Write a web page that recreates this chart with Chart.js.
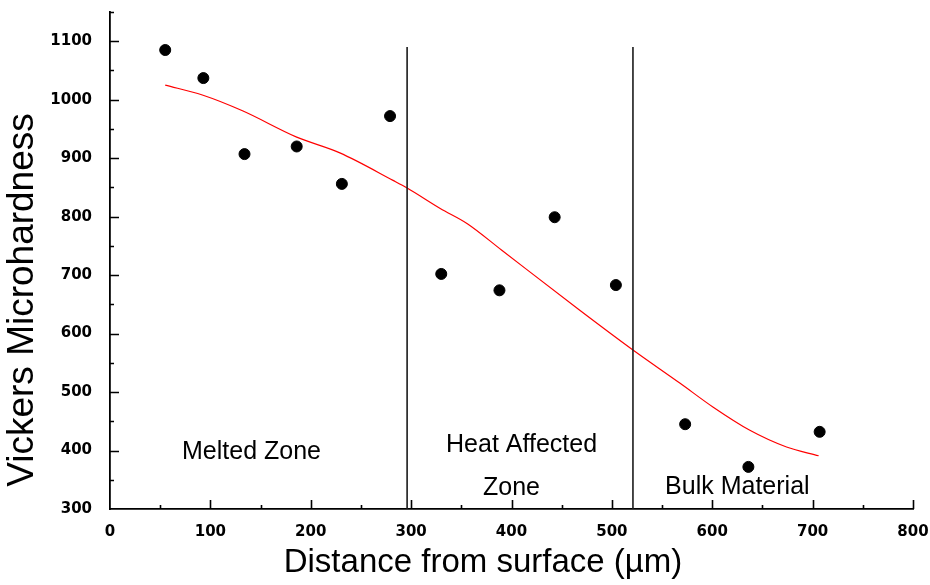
<!DOCTYPE html>
<html>
<head>
<meta charset="utf-8">
<script src="https://cdn.jsdelivr.net/npm/chart.js@4.4.1/dist/chart.umd.min.js"></script>
<style>
  body { margin: 0; background: #fff; }
  #wrap { width: 930px; height: 585px; }
</style>
</head>
<body>
<div id="wrap"><canvas id="chart1"></canvas></div>
<script>
// measured points
var distance = [55, 93, 134, 186, 231, 279, 330, 388, 443, 504, 573, 636, 707];
var hardness = [1085, 1037, 907, 920, 856, 972, 702, 674, 799, 683, 445, 372, 432];

// red fitted curve
var fitDistance = [55, 92, 132, 186, 229, 282, 296, 329, 356, 390, 468, 521, 568, 601, 637, 674, 706];
var fitHardness = [1025, 1008, 981, 936, 909, 862, 849, 814, 788, 743, 640, 572, 515, 474, 435, 406, 391];

// zone boundaries
var boundaryX = [296, 521];
var boundaryTop = 1090;

// zone labels
var zoneText = ["Melted Zone", "Heat Affected", "Zone", "Bulk Material"];
var zoneX = [141, 410, 400, 625];
var zoneY = [397, 409, 336, 338];

var xTitle = "Distance from surface (µm)";
var yTitle = "Vickers Microhardness";

Chart.defaults.font.family = "'DejaVu Sans', sans-serif";
Chart.defaults.color = "#000";

function toPoints(xs, ys) {
  return xs.map(function(x, i) { return {x: x, y: ys[i]}; });
}

var datasets = [];
boundaryX.forEach(function(bx) {
  datasets.push({
    type: 'line',
    data: [{x: bx, y: 300}, {x: bx, y: boundaryTop}],
    borderColor: '#1a1a1a',
    borderWidth: 1.6,
    pointRadius: 0
  });
});
datasets.push({
  type: 'line',
  data: toPoints(fitDistance, fitHardness),
  borderColor: '#ff0000',
  borderWidth: 1.2,
  pointRadius: 0,
  cubicInterpolationMode: 'monotone'
});
datasets.push({
  type: 'scatter',
  data: toPoints(distance, hardness),
  backgroundColor: '#000',
  borderColor: '#000',
  pointRadius: 5.5,
  pointHoverRadius: 5.5
});

// inward tick marks, long at hundreds and short at fifties
var innerTicks = {
  id: 'innerTicks',
  afterDraw: function(chart) {
    var ctx = chart.ctx;
    var xs = chart.scales.x, ys = chart.scales.y;
    var a = chart.chartArea;
    ctx.save();
    ctx.strokeStyle = '#000';
    ctx.lineWidth = 1.6;
    ctx.beginPath();
    xs.ticks.forEach(function(t) {
      if (t.value == xs.min) return;
      var px = Math.round(xs.getPixelForValue(t.value)) + 0.5;
      var len = t.value % 100 == 0 ? 9 : 4;
      ctx.moveTo(px, a.bottom);
      ctx.lineTo(px, a.bottom - len);
    });
    ys.ticks.forEach(function(t) {
      if (t.value == ys.min) return;
      var py = Math.round(ys.getPixelForValue(t.value)) + 0.5;
      var len = t.value % 100 == 0 ? 9 : 4;
      ctx.moveTo(a.left, py);
      ctx.lineTo(a.left + len, py);
    });
    ctx.stroke();

    // zone labels
    ctx.fillStyle = '#000';
    ctx.font = "25px 'Liberation Sans', Arial, sans-serif";
    ctx.textAlign = 'center';
    ctx.textBaseline = 'middle';
    zoneText.forEach(function(txt, i) {
      ctx.fillText(txt, xs.getPixelForValue(zoneX[i]), ys.getPixelForValue(zoneY[i]));
    });

    // axis titles
    ctx.font = "33px 'Liberation Sans', Arial, sans-serif";
    ctx.fillText(xTitle, 483, 563);
    ctx.translate(23, 300);
    ctx.rotate(-Math.PI / 2);
    ctx.font = "37px 'Liberation Sans', Arial, sans-serif";
    ctx.fillText(yTitle, 0, 0);
    ctx.restore();
  }
};

var chart1 = new Chart(document.getElementById('chart1'), {
  type: 'scatter',
  data: { datasets: datasets },
  options: {
    responsive: true,
    maintainAspectRatio: false,
    animation: false,
    layout: { padding: { top: 12, right: 17, left: 0, bottom: 0 } },
    plugins: { legend: { display: false }, tooltip: { enabled: false } },
    scales: {
      x: {
        type: 'linear',
        min: 0,
        max: 800,
        grid: { display: false, drawTicks: false },
        border: { display: true, color: '#000', width: 1.8 },
        ticks: {
          stepSize: 50,
          autoSkip: false,
          maxRotation: 0,
          padding: 14,
          font: { size: 15, weight: 'bold' },
          callback: function(v) { return v % 100 == 0 ? v : ''; }
        },
        afterFit: function(scale) {
          scale.height = 76;
          scale.paddingLeft = 0;
          scale.paddingRight = 0;
        }
      },
      y: {
        type: 'linear',
        min: 300,
        max: 1150,
        grid: { display: false, drawTicks: false },
        border: { display: true, color: '#000', width: 1.8 },
        ticks: {
          stepSize: 50,
          autoSkip: false,
          padding: 18,
          font: { size: 15, weight: 'bold' },
          callback: function(v) { return (v % 100 == 0 && v <= 1100) ? v : ''; }
        },
        afterFit: function(scale) {
          scale.width = 110;
          scale.paddingTop = 0;
          scale.paddingBottom = 0;
        }
      }
    }
  },
  plugins: [innerTicks]
});
</script>
</body>
</html>
